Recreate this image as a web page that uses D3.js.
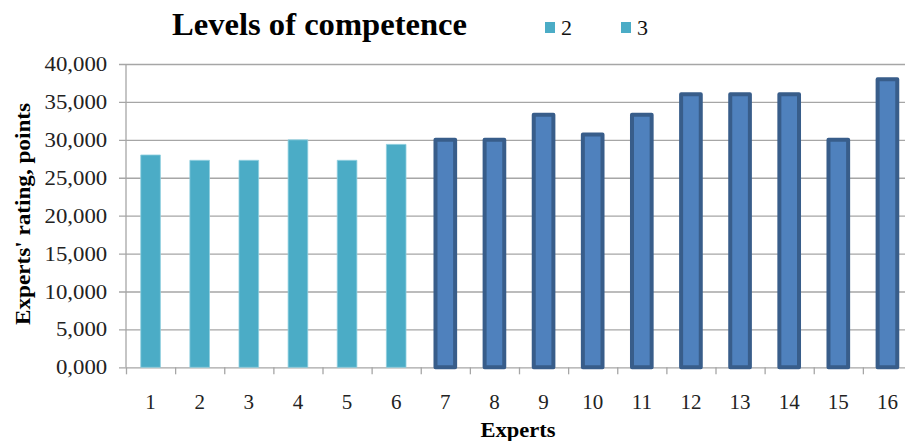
<!DOCTYPE html>
<html>
<head>
<meta charset="utf-8">
<script src="https://cdn.jsdelivr.net/npm/d3@7"></script>
<style>
  body { margin: 0; background: #fff; }
  svg { display: block; }
  svg text { font-family: "Liberation Serif", "Times New Roman", "DejaVu Serif", serif !important; }
</style>
</head>
<body>
<div id="chart"></div>
<script>
// values
var experts = ["1", "2", "3", "4", "5", "6", "7", "8", "9", "10", "11", "12", "13", "14", "15", "16"];
var levels = [2, 2, 2, 2, 2, 2, 3, 3, 3, 3, 3, 3, 3, 3, 3, 3];
var ratings = [28.0, 27.3, 27.3, 30.0, 27.3, 29.4, 30.0, 30.0, 33.3, 30.7, 33.3, 36.0, 36.0, 36.0, 30.0, 38.0];
var legendKeys = ["2", "3"];
var yTicks = [0, 5, 10, 15, 20, 25, 30, 35, 40];

var width = 905;
var height = 441;
var margin = { top: 64, bottom: 74, left: 126, right: -7 };

var lightBlue = "#4BACC6";
var darkFill = "#4F81BD";
var darkLine = "#385D8A";
var gridColor = "#A6A6A6";

function fmt(d) {
  return d.toFixed(3).replace(".", ",");
}

var svg = d3.select("#chart")
  .append("svg")
  .attr("width", width)
  .attr("height", height);

var xBand = d3.scaleBand()
  .domain(experts)
  .range([margin.left, width - margin.right])
  .paddingInner(0.6)
  .paddingOuter(0.3);

var xEdge = d3.scaleLinear()
  .domain([0, experts.length])
  .range([margin.left, width - margin.right]);

var yScale = d3.scaleLinear()
  .domain([0, 40])
  .range([height - margin.bottom + 0.3, margin.top]);

// grid lines + y labels
var yAxis = svg.append("g")
  .attr("transform", "translate(" + margin.left + ",0)")
  .call(d3.axisLeft(yScale)
    .tickValues(yTicks)
    .tickFormat(fmt)
    .tickSize(-(width - margin.left - margin.right))
    .tickPadding(0));
yAxis.select(".domain").remove();
yAxis.selectAll(".tick line")
  .attr("x1", -7)
  .attr("stroke", gridColor)
  .attr("stroke-width", 1.3);
yAxis.selectAll(".tick text")
  .attr("x", -16.5)
  .attr("dy", "0.33em")
  .attr("transform", "scale(1.14,1)")
  .attr("font-size", 20)
  .attr("fill", "#222");

// vertical axis line
svg.append("line")
  .attr("x1", margin.left).attr("x2", margin.left)
  .attr("y1", yScale(40)).attr("y2", yScale(0))
  .attr("stroke", gridColor)
  .attr("stroke-width", 1.3);

// x tick marks at category edges
var xAxis = svg.append("g")
  .attr("transform", "translate(0," + yScale(0) + ")")
  .call(d3.axisBottom(xEdge)
    .tickValues(d3.range(experts.length + 1))
    .tickFormat("")
    .tickSize(7));
xAxis.select(".domain").remove();
xAxis.selectAll(".tick line")
  .attr("stroke", gridColor)
  .attr("stroke-width", 1.3);

// x labels
var xLabels = svg.append("g")
  .attr("transform", "translate(0," + yScale(0) + ")")
  .call(d3.axisBottom(xBand).tickSize(0).tickPadding(27));
xLabels.select(".domain").remove();
xLabels.selectAll(".tick text")
  .attr("font-size", 21)
  .attr("fill", "#222");

// bars
svg.append("g")
  .selectAll("rect")
  .data(ratings)
  .enter()
  .append("rect")
  .attr("x", function (d, i) { return xBand(experts[i]); })
  .attr("width", xBand.bandwidth())
  .attr("y", function (d) { return yScale(d); })
  .attr("height", function (d) { return yScale(0) - yScale(d); })
  .attr("fill", function (d, i) { return levels[i] == 2 ? lightBlue : darkFill; })
  .attr("stroke", function (d, i) { return levels[i] == 2 ? "#8FCFE0" : darkLine; })
  .attr("stroke-width", function (d, i) { return levels[i] == 2 ? 0.8 : 4; })
  .attr("stroke-linejoin", "round");

// title
svg.append("text")
  .attr("x", 172)
  .attr("y", 35)
  .attr("font-weight", "bold")
  .attr("font-size", 32)
  .attr("textLength", 295)
  .attr("lengthAdjust", "spacingAndGlyphs")
  .text("Levels of competence");

// legend
var legend = svg.append("g")
  .selectAll("g")
  .data(legendKeys)
  .enter()
  .append("g")
  .attr("transform", function (d, i) { return "translate(" + (545 + i * 76) + ",0)"; });
legend.append("rect")
  .attr("x", 0)
  .attr("y", 22)
  .attr("width", 10)
  .attr("height", 11)
  .attr("fill", lightBlue);
legend.append("text")
  .attr("x", 16)
  .attr("y", 35)
  .attr("font-size", 22)
  .attr("fill", "#111")
  .text(function (d) { return d; });

// axis titles
svg.append("text")
  .attr("transform", "translate(30," + 214 + ") rotate(-90)")
  .attr("text-anchor", "middle")
  .attr("font-weight", "bold")
  .attr("font-size", 22)
  .attr("textLength", 222)
  .attr("lengthAdjust", "spacingAndGlyphs")
  .text("Experts' rating, points");

svg.append("text")
  .attr("x", 518)
  .attr("y", 437)
  .attr("text-anchor", "middle")
  .attr("font-weight", "bold")
  .attr("font-size", 21)
  .attr("textLength", 75)
  .attr("lengthAdjust", "spacingAndGlyphs")
  .text("Experts");
</script>
</body>
</html>
